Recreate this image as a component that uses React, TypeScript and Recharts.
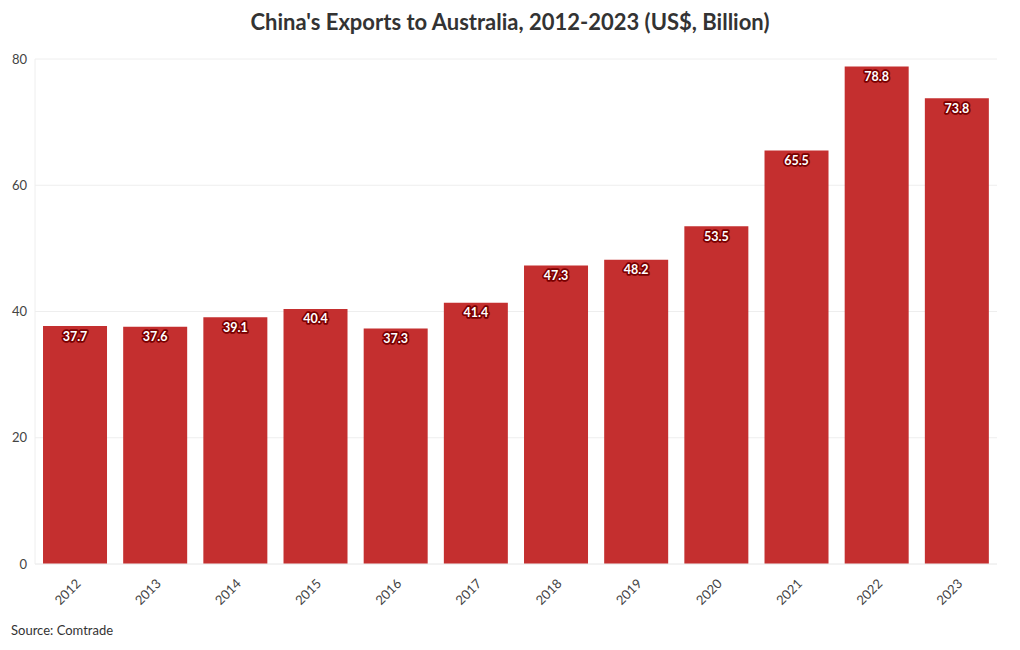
import { BarChart, Bar, XAxis, YAxis, CartesianGrid, LabelList } from 'recharts'

const years = ['2012', '2013', '2014', '2015', '2016', '2017', '2018', '2019', '2020', '2021', '2022', '2023']
const exports = [37.7, 37.6, 39.1, 40.4, 37.3, 41.4, 47.3, 48.2, 53.5, 65.5, 78.8, 73.8]
const yTicks = [0, 20, 40, 60, 80]

const FONT = 'Lato, "Noto Sans", sans-serif'

// white value with a dark red halo, just under the bar top
const ValueLabel = (props: any) => {
  const { x, y, width, value } = props
  return (
    <text
      x={x + width / 2}
      y={y + 10}
      textAnchor="middle"
      dominantBaseline="central"
      fontFamily={FONT}
      fontSize={12.5}
      fontWeight={700}
      fill="#fff"
      stroke="#7a0000"
      strokeWidth={3.5}
      strokeLinejoin="round"
      style={{ paintOrder: 'stroke' }}
    >
      {value.toFixed(1)}
    </text>
  )
}

export default function App() {
  const data = years.map((year, i) => ({ year, value: exports[i] }))

  return (
    <div style={{ position: 'absolute', left: 0, top: 0, width: 1020, height: 650, background: '#fff', fontFamily: FONT }}>
      <div
        style={{
          position: 'absolute',
          top: 8,
          left: 0,
          width: 1020,
          textAlign: 'center',
          fontSize: 22,
          fontWeight: 700,
          color: '#333',
        }}
      >
        China's Exports to Australia, 2012-2023 (US$, Billion)
      </div>
      <BarChart
        width={1020}
        height={650}
        data={data}
        margin={{ top: 59, right: 23, bottom: 0, left: 0 }}
        barCategoryGap="10%"
      >
        <CartesianGrid stroke="#eeeeee" vertical={false} />
        <XAxis
          dataKey="year"
          height={86}
          interval={0}
          tickLine={false}
          axisLine={{ stroke: '#eeeeee' }}
          tick={{ fill: '#444', fontSize: 13, fontFamily: FONT }}
          angle={-45}
          textAnchor="end"
          dy={6}
        />
        <YAxis
          width={35}
          domain={[0, 80]}
          ticks={yTicks}
          tickLine={false}
          axisLine={{ stroke: '#eeeeee' }}
          tick={{ fill: '#444', fontSize: 13, fontFamily: FONT }}
        />
        <Bar dataKey="value" fill="#c42f2f" isAnimationActive={false}>
          <LabelList dataKey="value" content={ValueLabel} />
        </Bar>
      </BarChart>
      <div style={{ position: 'absolute', left: 11, top: 622, fontSize: 13, color: '#333' }}>Source: Comtrade</div>
    </div>
  )
}
